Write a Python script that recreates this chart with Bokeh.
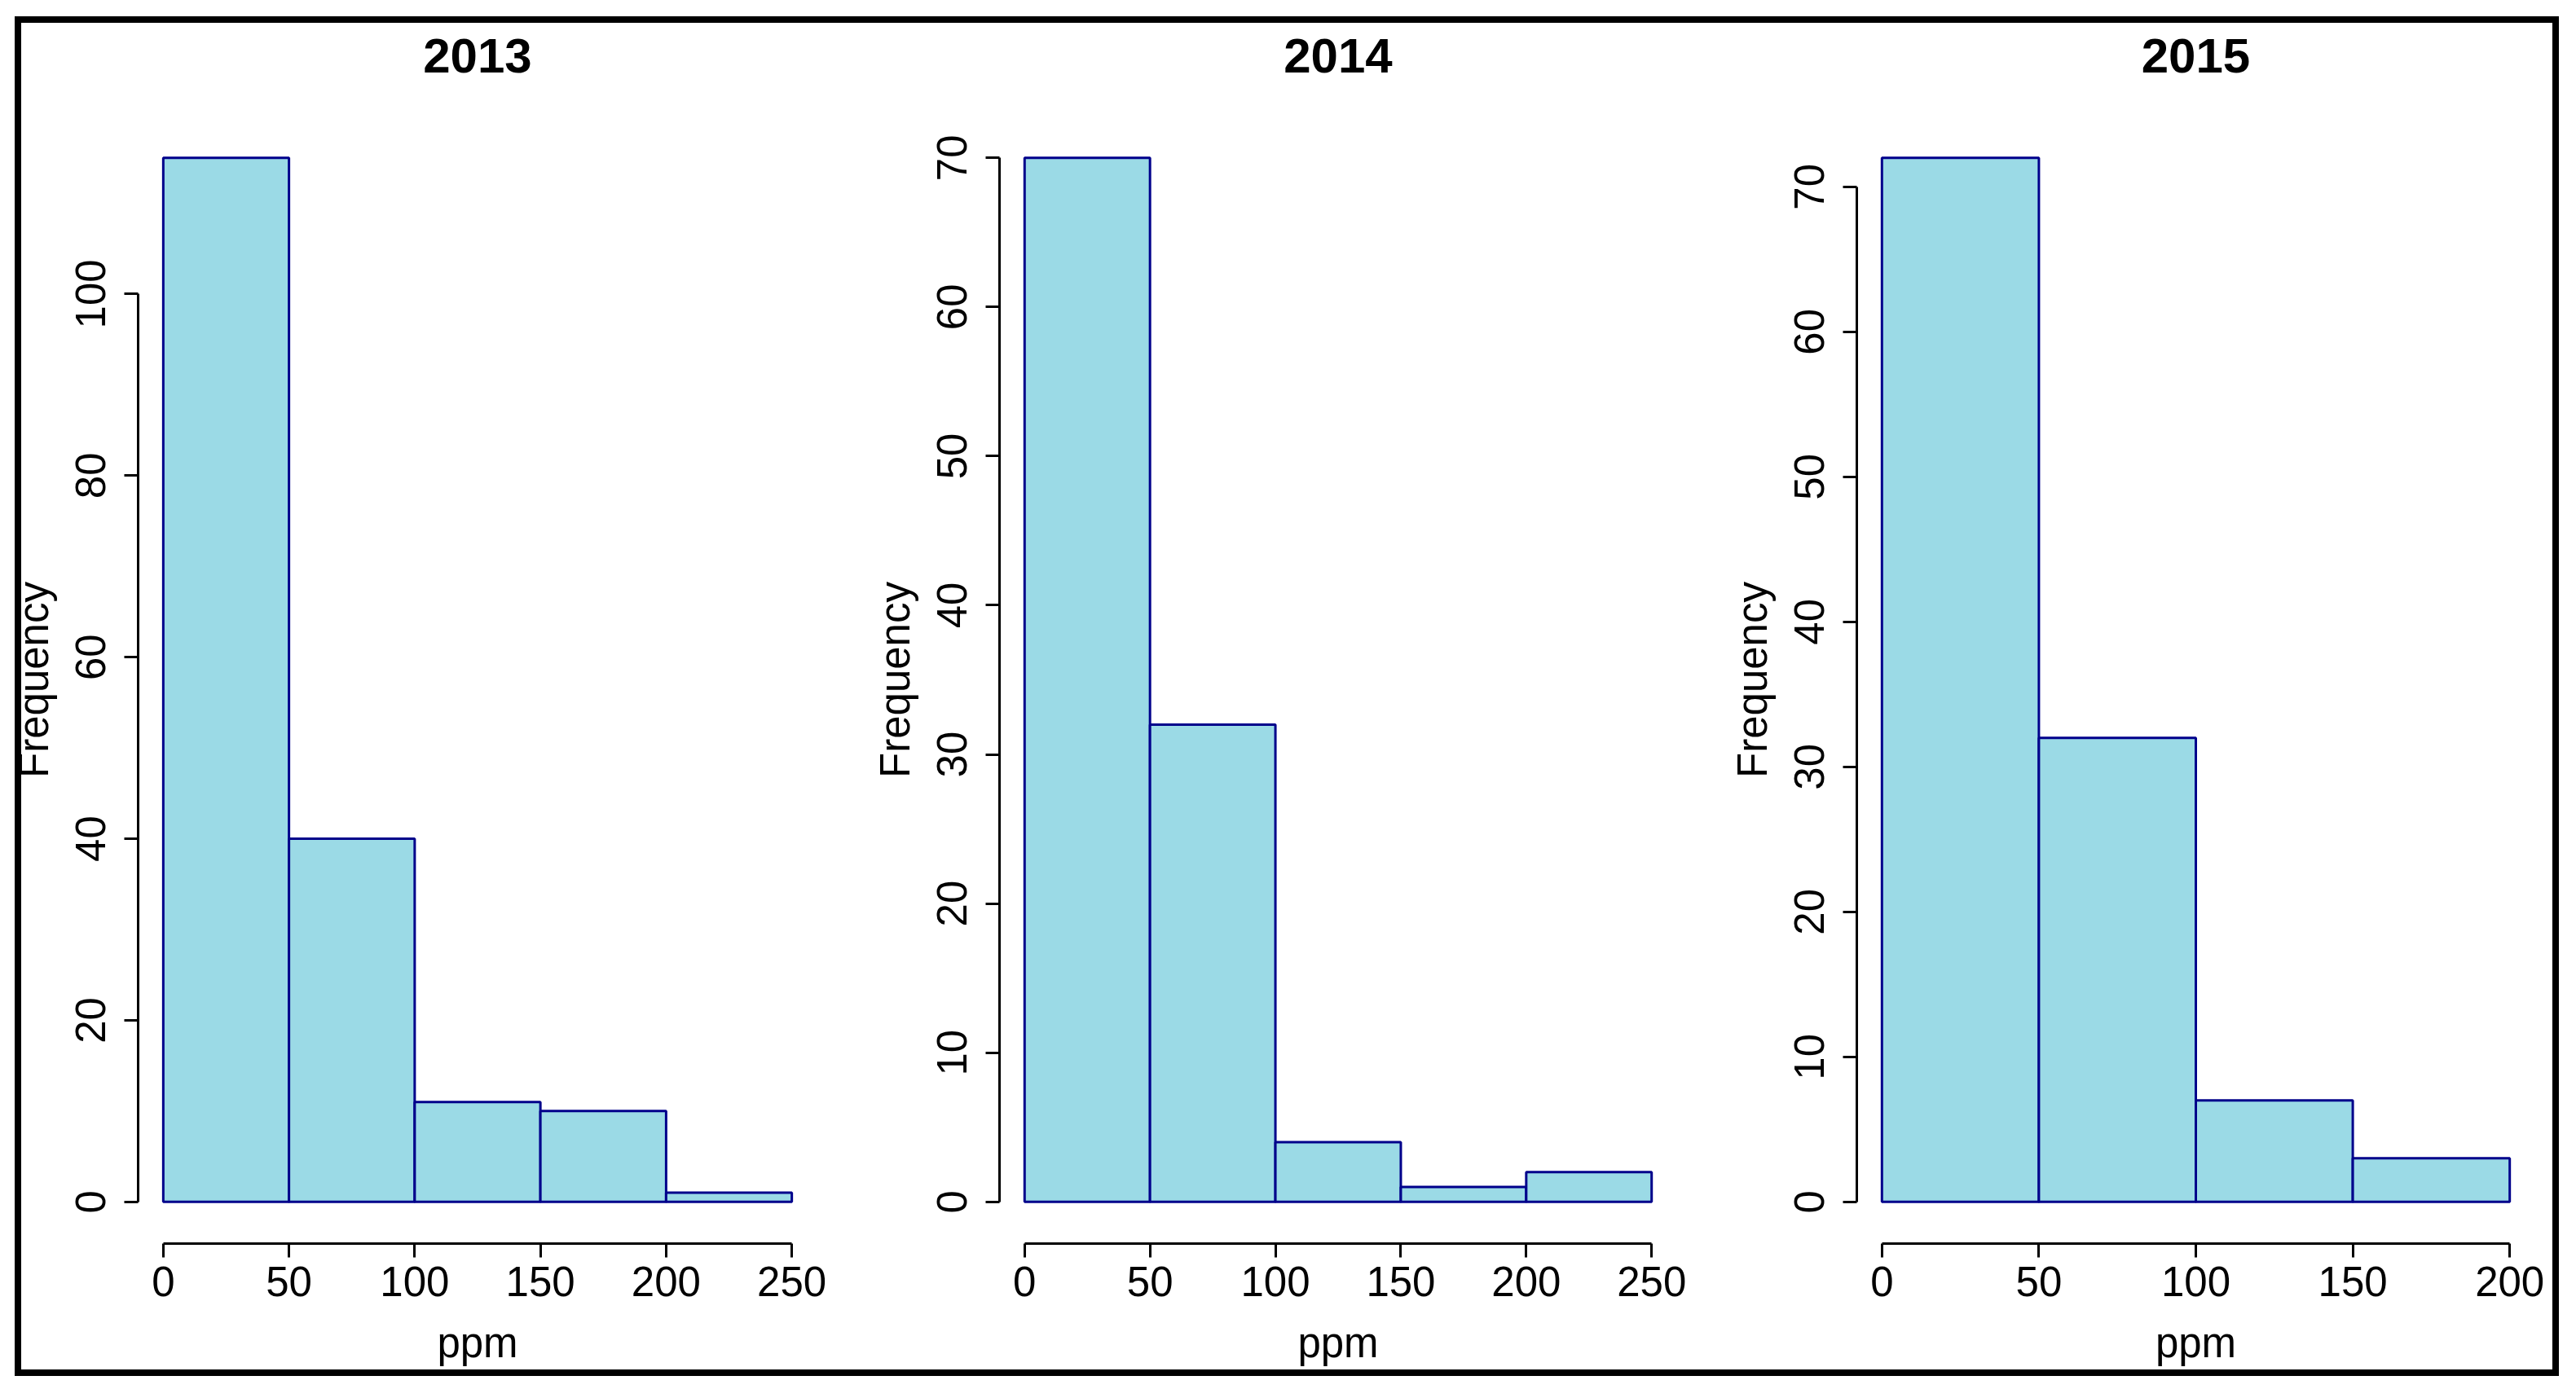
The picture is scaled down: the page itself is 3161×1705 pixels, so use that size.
from bokeh.plotting import figure
from bokeh.layouts import row
from bokeh.models import FixedTicker, Range1d, LinearAxis
from bokeh.embed import file_html
from bokeh.resources import INLINE

# ---- data ----
years = ["2013", "2014", "2015"]
edges_2013 = [0, 50, 100, 150, 200, 250]
counts_2013 = [115, 40, 11, 10, 1]
edges_2014 = [0, 50, 100, 150, 200, 250]
counts_2014 = [70, 32, 4, 1, 2]
edges_2015 = [0, 50, 100, 150, 200]
counts_2015 = [72, 32, 7, 3]
xticks_2013 = [0, 50, 100, 150, 200, 250]
xticks_2014 = [0, 50, 100, 150, 200, 250]
xticks_2015 = [0, 50, 100, 150, 200]
yticks_2013 = [0, 20, 40, 60, 80, 100]
yticks_2014 = [0, 10, 20, 30, 40, 50, 60, 70]
yticks_2015 = [0, 10, 20, 30, 40, 50, 60, 70]
x_label = "ppm"
y_label = "Frequency"

panels = [
    (years[0], edges_2013, counts_2013, xticks_2013, yticks_2013),
    (years[1], edges_2014, counts_2014, xticks_2014, yticks_2014),
    (years[2], edges_2015, counts_2015, xticks_2015, yticks_2015),
]

# layout geometry (pixels)
fig_widths = [1066, 1052, 1032]
left_b = [169, 158, 158]
right_b = [64, 61, 40]
top_b = 142
bottom_b = 173
fig_h = 1699

# outer black frame, drawn as CSS background of the row (figures are transparent)
FR_L, FR_T, FR_R, FR_B, FR_W = 18, 20, 3140, 1689, 8

FILL = "#9BDAE6"
EDGE = "#00008B"
FONT = "Liberation Sans"
FS = "51px"

figs = []
for i, (yr, edges, counts, xt, yt) in enumerate(panels):
    lo, hi = edges[0], edges[-1]
    sx = hi - lo
    ymax = max(counts)
    p = figure(width=fig_widths[i], height=fig_h,
               x_range=Range1d(lo - 0.04 * sx, hi + 0.04 * sx),
               y_range=Range1d(-0.04 * ymax, 1.04 * ymax),
               output_backend="svg", toolbar_location=None,
               min_border_left=left_b[i], min_border_right=right_b[i],
               min_border_top=top_b, min_border_bottom=bottom_b)
    p.quad(left=edges[:-1], right=edges[1:], bottom=0, top=counts,
           fill_color=FILL, line_color=EDGE, line_width=3)
    p.grid.visible = False
    p.outline_line_color = None
    p.background_fill_color = None
    p.border_fill_color = None

    xa = p.below[0]
    ya = p.left[0]

    # panel title, set as the label of a bare axis above the plot
    ta = LinearAxis(ticker=FixedTicker(ticks=[]), axis_label=yr)
    ta.axis_line_color = None
    ta.major_tick_line_color = None
    ta.minor_tick_line_color = None
    ta.major_tick_out = 0
    ta.major_tick_in = 0
    ta.major_label_standoff = 0
    ta.axis_label_standoff = 54
    ta.axis_label_text_font = FONT
    ta.axis_label_text_font_size = "60px"
    ta.axis_label_text_font_style = "bold"
    ta.axis_label_text_color = "black"
    p.add_layout(ta, "above")

    xa.ticker = FixedTicker(ticks=xt)
    xa.bounds = (xt[0], xt[-1])
    xa.axis_label = x_label
    xa.axis_label_text_font = FONT
    xa.axis_label_text_font_size = FS
    xa.axis_label_text_font_style = "normal"
    xa.axis_label_text_color = "black"
    xa.major_label_text_font = FONT
    xa.major_label_text_font_size = FS
    xa.major_label_text_color = "black"
    xa.major_tick_out = 17
    xa.major_tick_in = 0
    xa.minor_tick_line_color = None
    xa.axis_line_width = 3
    xa.axis_line_color = "black"
    xa.major_tick_line_width = 3
    xa.major_tick_line_color = "black"
    xa.major_label_standoff = 11
    xa.axis_label_standoff = 26

    ya.ticker = FixedTicker(ticks=yt)
    ya.bounds = (yt[0], yt[-1])
    ya.axis_label = y_label
    ya.axis_label_text_font = FONT
    ya.axis_label_text_font_size = FS
    ya.axis_label_text_font_style = "normal"
    ya.axis_label_text_color = "black"
    ya.major_label_text_font = FONT
    ya.major_label_text_font_size = FS
    ya.major_label_text_color = "black"
    ya.major_label_orientation = "vertical"
    ya.major_tick_out = 17
    ya.major_tick_in = 0
    ya.minor_tick_line_color = None
    ya.axis_line_width = 3
    ya.axis_line_color = "black"
    ya.major_tick_line_width = 3
    ya.major_tick_line_color = "black"
    ya.major_label_standoff = 23
    ya.axis_label_standoff = 21
    figs.append(p)

bar = "linear-gradient(#000000, #000000)"
frame_styles = {
    "background-color": "white",
    "background-image": ", ".join([bar] * 4),
    "background-size": (f"{FR_R - FR_L}px {FR_W}px, {FR_R - FR_L}px {FR_W}px, "
                        f"{FR_W}px {FR_B - FR_T}px, {FR_W}px {FR_B - FR_T}px"),
    "background-position": (f"{FR_L}px {FR_T}px, {FR_L}px {FR_B - FR_W}px, "
                            f"{FR_L}px {FR_T}px, {FR_R - FR_W}px {FR_T}px"),
    "background-repeat": "no-repeat",
}

layout = row(*figs, styles=frame_styles)

open("out.html", "w").write(file_html(layout, INLINE))
